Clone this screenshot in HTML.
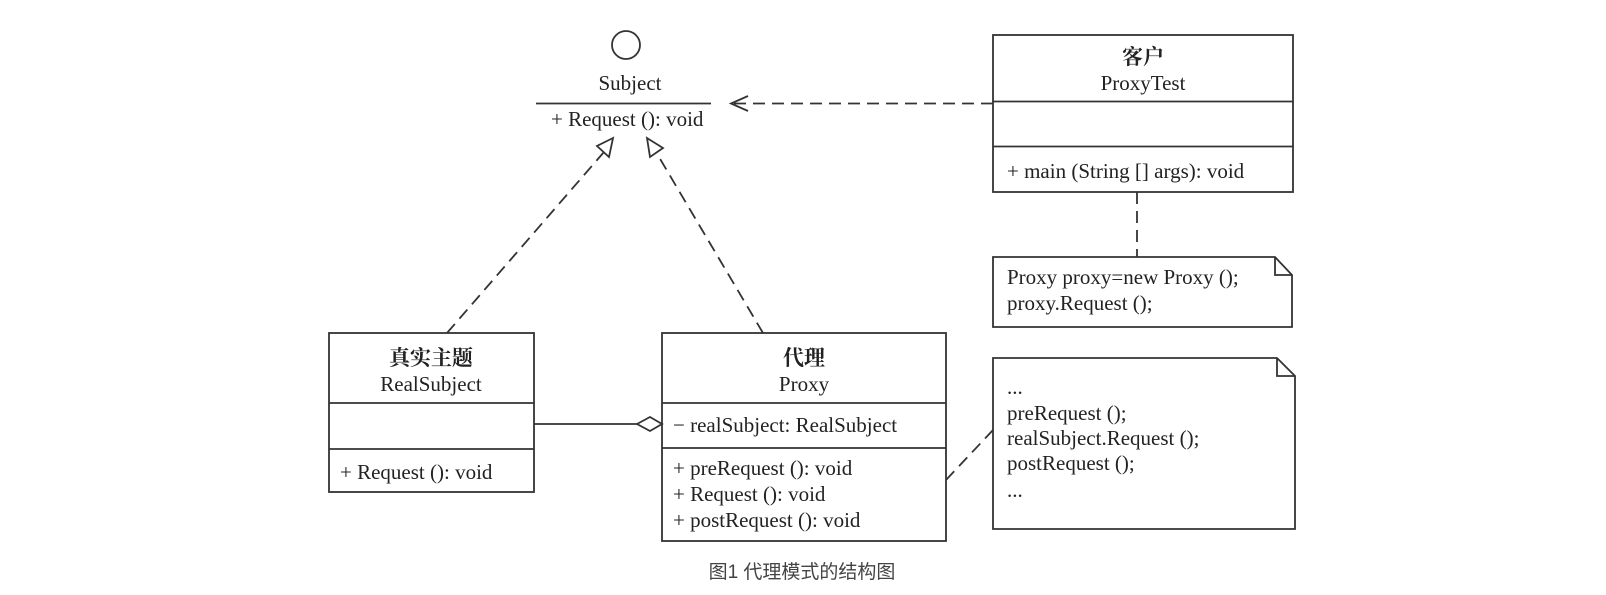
<!DOCTYPE html>
<html><head><meta charset="utf-8"><style>
html,body{margin:0;padding:0;background:#fff;}
svg{display:block;}
text{font-family:"Liberation Serif","Noto Serif CJK SC",serif;font-size:21px;fill:#222;}
.cn{font-family:"Liberation Serif","Noto Serif CJK SC",serif;font-weight:bold;}
</style></head><body>
<svg width="1606" height="595" viewBox="0 0 1606 595" xmlns="http://www.w3.org/2000/svg">
<g stroke="#333" stroke-width="1.8" fill="none">
<circle cx="626" cy="45" r="14"/>
<line x1="536" y1="103.5" x2="711" y2="103.5"/>
<line x1="993" y1="103.5" x2="732" y2="103.5" stroke-dasharray="12,7"/>
<polyline points="748,96 731,103.5 748,111"/>
<rect x="993" y="35" width="300" height="157"/>
<line x1="993" y1="101.5" x2="1293" y2="101.5"/>
<line x1="993" y1="146.5" x2="1293" y2="146.5"/>
<line x1="1137" y1="192" x2="1137" y2="257" stroke-dasharray="12,7"/>
<path d="M993 257 H1275 L1292 275 V327 H993 Z"/>
<path d="M1275 257 V275 H1292"/>
<path d="M993 358 H1277 L1295 376 V529 H993 Z"/>
<path d="M1277 358 V376 H1295"/>
<line x1="946" y1="480" x2="993" y2="430" stroke-dasharray="12,7"/>
<rect x="329" y="333" width="205" height="159"/>
<line x1="329" y1="403" x2="534" y2="403"/>
<line x1="329" y1="449" x2="534" y2="449"/>
<rect x="662" y="333" width="284" height="208"/>
<line x1="662" y1="403" x2="946" y2="403"/>
<line x1="662" y1="448" x2="946" y2="448"/>
<line x1="534" y1="424" x2="637" y2="424"/>
<polygon points="637,424 650,417 662,424 650,431" fill="#fff"/>
<line x1="447" y1="333" x2="604" y2="152" stroke-dasharray="12,7"/>
<polygon points="613,138 597,146 609,157" fill="#fff"/>
<line x1="763" y1="333" x2="656" y2="152" stroke-dasharray="12,7"/>
<polygon points="647,138 650,157 663,148" fill="#fff"/>
</g>
<text x="630" y="90" text-anchor="middle">Subject</text>
<text x="551" y="126">+ Request (): void</text>
<text x="1143" y="64" text-anchor="middle" class="cn">客户</text>
<text x="1143" y="90" text-anchor="middle">ProxyTest</text>
<text x="1007" y="178">+ main (String [] args): void</text>
<text x="1007" y="284">Proxy proxy=new Proxy ();</text>
<text x="1007" y="310">proxy.Request ();</text>
<text x="1007" y="394">...</text>
<text x="1007" y="420">preRequest ();</text>
<text x="1007" y="445">realSubject.Request ();</text>
<text x="1007" y="470">postRequest ();</text>
<text x="1007" y="497">...</text>
<text x="431" y="365" text-anchor="middle" class="cn">真实主题</text>
<text x="431" y="391" text-anchor="middle">RealSubject</text>
<text x="340" y="479">+ Request (): void</text>
<text x="804" y="365" text-anchor="middle" class="cn">代理</text>
<text x="804" y="391" text-anchor="middle">Proxy</text>
<text x="673" y="432">− realSubject: RealSubject</text>
<text x="673" y="475">+ preRequest (): void</text>
<text x="673" y="501">+ Request (): void</text>
<text x="673" y="527">+ postRequest (): void</text>
<text x="802" y="578" text-anchor="middle" style="font-family:'Liberation Sans','Noto Sans CJK SC',sans-serif;font-size:19px;fill:#444;">图1 代理模式的结构图</text>
</svg>
</body></html>
